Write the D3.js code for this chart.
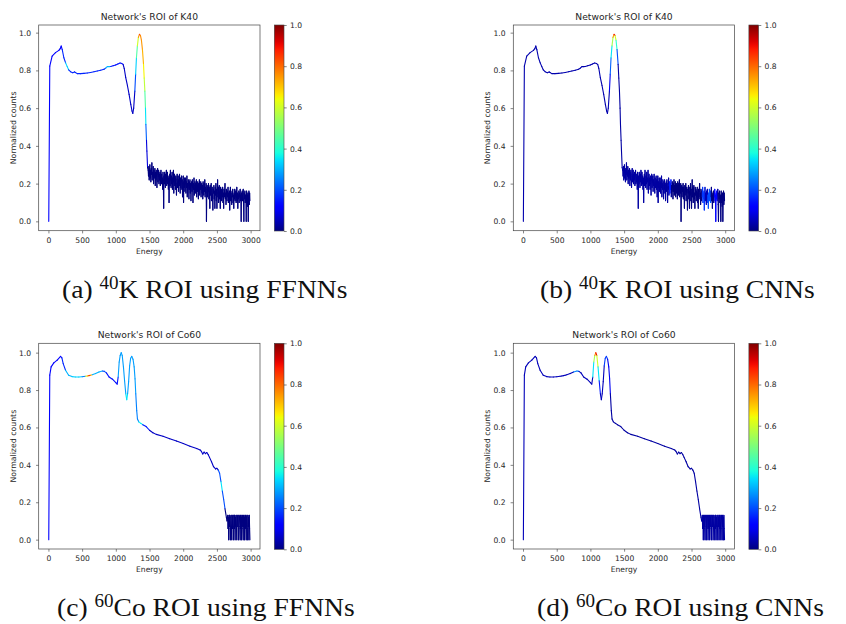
<!DOCTYPE html>
<html>
<head>
<meta charset="utf-8">
<script src="https://cdn.jsdelivr.net/npm/d3@7"></script>
<style>
  body { margin: 0; background: #fff; }
  svg text { font-family: "DejaVu Sans", sans-serif; fill: #262626; }
  .caption { font-family: "Liberation Serif", serif; fill: #111; }
</style>
</head>
<body>
<div id="chart"></div>
<script>
const width = 846;
const height = 624;

// K40 spectrum: smooth part read at nodes, noisy tail read every 5 channels from 1480
const k40SmoothEnergy = [5, 20, 55, 105, 155, 175, 190, 205, 229, 255,
  279, 300, 328, 360, 388, 400, 428, 475, 527, 576,
  626, 676, 725, 775, 825, 850, 874, 900, 924, 960,
  998, 1030, 1063, 1090, 1108, 1125, 1147, 1172, 1197, 1222,
  1240, 1252, 1265, 1282, 1294, 1306, 1320, 1335, 1350, 1365,
  1380, 1395, 1411, 1421, 1431, 1440, 1446, 1455, 1461, 1471];
const k40SmoothCounts = [0, 0.823, 0.876, 0.894, 0.906, 0.915, 0.929, 0.91, 0.867, 0.84,
  0.82, 0.803, 0.793, 0.788, 0.792, 0.789, 0.783, 0.783, 0.784, 0.786,
  0.789, 0.793, 0.797, 0.801, 0.806, 0.812, 0.82, 0.82, 0.821, 0.825,
  0.829, 0.834, 0.839, 0.836, 0.832, 0.81, 0.762, 0.72, 0.673, 0.62,
  0.585, 0.572, 0.6, 0.69, 0.78, 0.867, 0.93, 0.975, 0.991, 0.985,
  0.96, 0.91, 0.832, 0.76, 0.69, 0.6, 0.514, 0.43, 0.373, 0.285];
const k40TailStart = 1480;
const k40TailStep = 5;
const k40TailCounts = [
  0.27, 0.24, 0.29, 0.22, 0.26, 0.3, 0.23, 0.27, 0.21, 0.28,
  0.25, 0.31, 0.22, 0.26, 0.24, 0.29, 0.2, 0.27, 0.23, 0.25,
  0.28, 0.19, 0.26, 0.22, 0.27, 0.24, 0.18, 0.25, 0.28, 0.21,
  0.24, 0.27, 0.2, 0.25, 0.22, 0.26, 0.19, 0.24, 0.27, 0.2,
  0.25, 0.21, 0.23, 0.17, 0.26, 0.22, 0.07, 0.24, 0.2, 0.26,
  0.22, 0.18, 0.25, 0.21, 0.27, 0.19, 0.23, 0.26, 0.2, 0.24,
  0.17, 0.23, 0.1, 0.21, 0.25, 0.19, 0.27, 0.22, 0.18, 0.24,
  0.2, 0.26, 0.17, 0.23, 0.21, 0.27, 0.15, 0.22, 0.25, 0.19,
  0.23, 0.17, 0.24, 0.2, 0.14, 0.22, 0.25, 0.18, 0.21, 0.24,
  0.16, 0.22, 0.19, 0.25, 0.2, 0.15, 0.23, 0.18, 0.21, 0.24,
  0.17, 0.22, 0.13, 0.2, 0.24, 0.1, 0.21, 0.18, 0.23, 0.16,
  0.2, 0.23, 0.15, 0.21, 0.18, 0.24, 0.13, 0.2, 0.17, 0.22,
  0.19, 0.12, 0.21, 0.17, 0.22, 0.15, 0.2, 0.11, 0.19, 0.21,
  0.16, 0.22, 0.18, 0.1, 0.2, 0.17, 0.23, 0.14, 0.19, 0.21,
  0.15, 0.2, 0.17, 0.22, 0.13, 0.19, 0.16, 0.21, 0.18, 0.12,
  0.2, 0.16, 0.22, 0.14, 0.19, 0.17, 0.21, 0.13, 0.18, 0.2,
  0.15, 0.19, 0.12, 0.21, 0.17, 0.14, 0.2, 0.16, 0.22, 0.13,
  0.18, 0.15, 0.2, 0.0, 0.17, 0.19, 0.13, 0.18, 0.16, 0.2,
  0.12, 0.18, 0.15, 0.07, 0.19, 0.14, 0.17, 0.2, 0.11, 0.16,
  0.18, 0.13, 0.06, 0.17, 0.15, 0.19, 0.12, 0.16, 0.07, 0.18,
  0.14, 0.2, 0.11, 0.17, 0.07, 0.15, 0.22, 0.13, 0.18, 0.1,
  0.16, 0.19, 0.12, 0.15, 0.07, 0.18, 0.14, 0.17, 0.11, 0.16,
  0.13, 0.18, 0.1, 0.15, 0.07, 0.17, 0.13, 0.16, 0.2, 0.12,
  0.15, 0.09, 0.17, 0.14, 0.11, 0.16, 0.13, 0.18, 0.1, 0.15,
  0.12, 0.16, 0.06, 0.14, 0.18, 0.11, 0.15, 0.13, 0.09, 0.16,
  0.13, 0.17, 0.1, 0.14, 0.07, 0.15, 0.12, 0.17, 0.11, 0.14,
  0.16, 0.1, 0.13, 0.18, 0.11, 0.15, 0.07, 0.14, 0.12, 0.16,
  0.1, 0.15, 0.13, 0.17, 0.11, 0.14, 0.0, 0.15, 0.12, 0.16,
  0.11, 0.14, 0.17, 0.09, 0.0, 0.15, 0.12, 0.16, 0.1, 0.14,
  0.13, 0.0, 0.16, 0.1, 0.14, 0.08, 0.15, 0.0, 0.13, 0.16,
  0.09, 0.15, 0.11];

// Co60 spectrum
const co60SmoothEnergy = [5, 20, 40, 80, 130, 180, 200, 219, 254, 300,
  350, 400, 450, 500, 550, 575, 600, 625, 650, 700,
  750, 800, 830, 860, 900, 950, 1000, 1020, 1035, 1050,
  1065, 1080, 1095, 1113, 1130, 1148, 1162, 1175, 1190, 1205,
  1220, 1237, 1255, 1272, 1285, 1296, 1310, 1321, 1340, 1370,
  1400, 1450, 1500, 1550, 1600, 1700, 1800, 1900, 2000, 2100,
  2200, 2250, 2270, 2290, 2310, 2330, 2350, 2370, 2390, 2420,
  2450, 2480, 2500, 2520, 2540, 2560, 2580, 2600, 2620, 2640,
  2650];
const co60SmoothCounts = [0, 0.88, 0.924, 0.945, 0.96, 0.98, 0.972, 0.941, 0.906, 0.879,
  0.872, 0.87, 0.87, 0.871, 0.874, 0.875, 0.877, 0.879, 0.882, 0.888,
  0.897, 0.902, 0.9, 0.892, 0.87, 0.858, 0.84, 0.832, 0.87, 0.95,
  0.985, 1.0, 0.985, 0.924, 0.85, 0.78, 0.748, 0.78, 0.845, 0.93,
  0.97, 0.98, 0.965, 0.924, 0.86, 0.78, 0.69, 0.645, 0.63, 0.622,
  0.615, 0.605, 0.585, 0.572, 0.563, 0.553, 0.54, 0.527, 0.514, 0.5,
  0.487, 0.48, 0.472, 0.458, 0.468, 0.46, 0.466, 0.455, 0.44, 0.417,
  0.39, 0.378, 0.382, 0.372, 0.355, 0.31, 0.26, 0.215, 0.165, 0.12,
  0.1];
const co60TailStart = 2660;
const co60TailStep = 5;
const co60TailCounts = [
  0.13, 0.06, 0.12, 0.0, 0.13, 0.07, 0.13, 0.06, 0.0, 0.12,
  0.13, 0.07, 0.0, 0.13, 0.06, 0.12, 0.13, 0.0, 0.07, 0.13,
  0.06, 0.13, 0.0, 0.12, 0.07, 0.13, 0.06, 0.0, 0.13, 0.12,
  0.07, 0.13, 0.0, 0.06, 0.13, 0.12, 0.07, 0.0, 0.13, 0.06,
  0.13, 0.0, 0.12, 0.07, 0.13, 0.06, 0.0, 0.13, 0.07, 0.12,
  0.0, 0.13, 0.06, 0.13, 0.07, 0.0, 0.12, 0.13, 0.06, 0.0,
  0.13, 0.07, 0.12, 0.0, 0.13, 0.06, 0.0];

// network ROI score, read as steps: value holds from its energy until the next one
const roiK40FfnnEnergy = [0, 200, 240, 300, 840, 920, 1100, 1282, 1294, 1306, 1320, 1335, 1350, 1365, 1380, 1395, 1411, 1421, 1431, 1440, 1446, 1455, 1471];
const roiK40FfnnValue = [0.12, 0.16, 0.33, 0.16, 0.3, 0.14, 0.06, 0.2, 0.33, 0.45, 0.6, 0.75, 0.83, 0.76, 0.75, 0.72, 0.65, 0.58, 0.45, 0.35, 0.22, 0.08, 0];
const roiK40CnnEnergy = [0, 1282, 1294, 1306, 1320, 1335, 1350, 1365, 1380, 1395, 1411, 2170, 2200, 2660, 2700, 2740, 2790, 2840, 2890];
const roiK40CnnValue = [0.04, 0.1, 0.22, 0.35, 0.55, 0.75, 0.9, 0.6, 0.4, 0.2, 0.03, 0.15, 0.0, 0.18, 0.05, 0.2, 0.0, 0.12, 0.0];
const roiCo60FfnnEnergy = [0, 200, 254, 320, 500, 550, 575, 600, 625, 650, 800, 860, 1035, 1148, 1175, 1296, 1340, 1400, 1500, 2520, 2560, 2580, 2620];
const roiCo60FfnnValue = [0.12, 0.16, 0.3, 0.33, 0.25, 0.6, 0.75, 0.85, 0.72, 0.3, 0.2, 0.14, 0.28, 0.35, 0.28, 0.25, 0.36, 0.15, 0.06, 0.2, 0.35, 0.2, 0];
const roiCo60CnnEnergy = [0, 750, 830, 1035, 1050, 1065, 1080, 1095, 1113, 1130, 1148, 1205, 1255, 1296];
const roiCo60CnnValue = [0.05, 0.25, 0.05, 0.35, 0.55, 0.75, 0.9, 0.6, 0.35, 0.15, 0.05, 0.18, 0.1, 0.03];

const xTicks = [0, 500, 1000, 1500, 2000, 2500, 3000];
const yTicks = [0, 0.2, 0.4, 0.6, 0.8, 1.0];
const cbarTicks = [0, 0.2, 0.4, 0.6, 0.8, 1.0];

const k40Energy = k40SmoothEnergy.concat(k40TailCounts.map((_, i) => k40TailStart + i * k40TailStep));
const k40Counts = k40SmoothCounts.concat(k40TailCounts);
const co60Energy = co60SmoothEnergy.concat(co60TailCounts.map((_, i) => co60TailStart + i * co60TailStep));
const co60Counts = co60SmoothCounts.concat(co60TailCounts);

const panels = [
  { title: "Network's ROI of K40", energy: k40Energy, counts: k40Counts, roiE: roiK40FfnnEnergy, roiV: roiK40FfnnValue,
    left: 38.7, top: 25, cap: ["(a) ", "40", "K ROI using FFNNs"], capX: 62, capY: 298 },
  { title: "Network's ROI of K40", energy: k40Energy, counts: k40Counts, roiE: roiK40CnnEnergy, roiV: roiK40CnnValue,
    left: 513.3, top: 25, cap: ["(b) ", "40", "K ROI using CNNs"], capX: 540, capY: 298 },
  { title: "Network's ROI of Co60", energy: co60Energy, counts: co60Counts, roiE: roiCo60FfnnEnergy, roiV: roiCo60FfnnValue,
    left: 38.7, top: 343.3, cap: ["(c) ", "60", "Co ROI using FFNNs"], capX: 57, capY: 616 },
  { title: "Network's ROI of Co60", energy: co60Energy, counts: co60Counts, roiE: roiCo60CnnEnergy, roiV: roiCo60CnnValue,
    left: 513.3, top: 343.3, cap: ["(d) ", "60", "Co ROI using CNNs"], capX: 537, capY: 616 }
];

const plotW = 221.3;
const plotH = 205.7;
const cbarOffset = 235.6;
const cbarW = 9.7;
const tickLen = 2.7;

// matplotlib jet colormap
const jetR = d3.scaleLinear().domain([0, 0.35, 0.66, 0.89, 1]).range([0, 0, 1, 1, 0.5]).clamp(true);
const jetG = d3.scaleLinear().domain([0, 0.125, 0.375, 0.64, 0.91, 1]).range([0, 0, 1, 1, 0, 0]).clamp(true);
const jetB = d3.scaleLinear().domain([0, 0.11, 0.34, 0.65, 1]).range([0.5, 1, 1, 0, 0]).clamp(true);
function jet(v) {
    return d3.rgb(jetR(v) * 255, jetG(v) * 255, jetB(v) * 255).formatHex();
}

function padExtent(ext) {
    const span = ext[1] - ext[0];
    return [ext[0] - span * 0.05, ext[1] + span * 0.05];
}

const bisect = d3.bisector(d => d).right;
function roiAt(p, e) {
    return p.roiV[Math.max(0, bisect(p.roiE, e) - 1)];
}

const svg = d3.create("svg")
    .attr("width", width)
    .attr("height", height)
    .style("display", "block");

const grad = svg.append("defs").append("linearGradient")
    .attr("id", "jetgrad")
    .attr("x1", 0).attr("y1", 1).attr("x2", 0).attr("y2", 0);
grad.selectAll("stop")
    .data(d3.range(0, 1.0001, 0.02))
    .join("stop")
    .attr("offset", d => d)
    .attr("stop-color", d => jet(d));

panels.forEach(p => {
    const g = svg.append("g").attr("transform", `translate(${p.left},${p.top})`);

    const x = d3.scaleLinear().domain(padExtent(d3.extent(p.energy))).range([0, plotW]);
    const y = d3.scaleLinear().domain(padExtent(d3.extent(p.counts))).range([plotH, 0]);

    const segs = d3.pairs(p.energy.map((e, i) => [e, p.counts[i]]));
    g.append("g")
        .selectAll("line")
        .data(segs)
        .join("line")
        .attr("x1", d => x(d[0][0]))
        .attr("y1", d => y(d[0][1]))
        .attr("x2", d => x(d[1][0]))
        .attr("y2", d => y(d[1][1]))
        .attr("stroke", d => jet(roiAt(p, d[0][0])))
        .attr("stroke-width", 1.1)
        .attr("stroke-linecap", "round");

    const xAxis = g.append("g")
        .attr("transform", `translate(0,${plotH})`)
        .call(d3.axisBottom(x).tickValues(xTicks).tickFormat(d3.format("d")).tickSize(tickLen).tickPadding(3.9));
    const yAxis = g.append("g")
        .call(d3.axisLeft(y).tickValues(yTicks).tickFormat(d3.format(".1f")).tickSize(tickLen).tickPadding(5));
    [xAxis, yAxis].forEach(a => {
        a.select(".domain").remove();
        a.selectAll("line").attr("stroke", "#333").attr("stroke-width", 0.6);
        a.selectAll("text").style("font-size", "7.6px").attr("fill", "#262626");
    });

    g.append("rect")
        .attr("width", plotW)
        .attr("height", plotH)
        .attr("fill", "none")
        .attr("stroke", "#444")
        .attr("stroke-width", 0.7);

    g.append("text")
        .attr("x", plotW / 2)
        .attr("y", -5.5)
        .attr("text-anchor", "middle")
        .style("font-size", "9.2px")
        .text(p.title);

    g.append("text")
        .attr("x", plotW / 2)
        .attr("y", plotH + 23)
        .attr("text-anchor", "middle")
        .style("font-size", "7.6px")
        .text("Energy");

    g.append("text")
        .attr("transform", `translate(-23,${plotH / 2}) rotate(-90)`)
        .attr("text-anchor", "middle")
        .style("font-size", "7.8px")
        .text("Normalized counts");

    // colorbar
    const cb = g.append("g").attr("transform", `translate(${cbarOffset},0)`);
    const c = d3.scaleLinear().domain([0, 1]).range([plotH + 0.3, 0]);
    cb.append("rect")
        .attr("width", cbarW)
        .attr("height", plotH + 0.3)
        .attr("fill", "url(#jetgrad)")
        .attr("stroke", "#444")
        .attr("stroke-width", 0.6);
    const cAxis = cb.append("g")
        .attr("transform", `translate(${cbarW},0)`)
        .call(d3.axisRight(c).tickValues(cbarTicks).tickFormat(d3.format(".1f")).tickSize(tickLen).tickPadding(3.3));
    cAxis.select(".domain").remove();
    cAxis.selectAll("line").attr("stroke", "#333").attr("stroke-width", 0.6);
    cAxis.selectAll("text").style("font-size", "7.6px").attr("fill", "#262626");

    // subfigure caption
    const cap = svg.append("text")
        .attr("class", "caption")
        .attr("transform", `translate(${p.capX},${p.capY}) scale(1.06,1)`)
        .style("font-size", "26px");
    cap.append("tspan").text(p.cap[0]);
    cap.append("tspan").attr("dy", -9.5).style("font-size", "18px").text(p.cap[1]);
    cap.append("tspan").attr("dy", 9.5).text(p.cap[2]);
});

document.getElementById("chart").append(svg.node());
</script>
</body>
</html>
